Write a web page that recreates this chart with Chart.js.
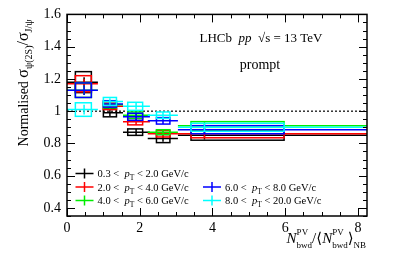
<!DOCTYPE html>
<html>
<head>
<meta charset="utf-8">
<script src="https://cdn.jsdelivr.net/npm/chart.js@4"></script>
<style>
  html, body { margin: 0; padding: 0; background: #fff; }
  #wrap { width: 399px; height: 257px; }
</style>
</head>
<body>
<div id="wrap"><canvas id="chart" width="399" height="257"></canvas></div>
<script>
// bins in N_bwd / <N_bwd>_NB
const xCenter = [0.47, 1.18, 1.9, 2.64, 3.78];
const xLow = [0, 0.99, 1.54, 2.22, 3.05];
const xHigh = [0.85, 1.54, 2.28, 3.05, 8.25];
const boxLow = [0.23, 1.0, 1.67, 2.46, 3.41];
const boxHigh = [0.67, 1.36, 2.08, 2.83, 5.97];

// pT bins (GeV/c)
const ptLow = ["0.3", "2.0", "4.0", "6.0", "8.0"];
const ptHigh = ["2.0", "4.0", "6.0", "8.0", "20.0"];
const colors = ["#000000", "#ff0000", "#00ee00", "#0000ff", "#00ffff"];

// normalised ratio per pT bin
const pt03to20 = [1.18, 0.99, 0.87, 0.83, 0.85];
const pt20to40 = [1.17, 1.03, 0.935, 0.86, 0.86];
const pt40to60 = [1.13, 1.04, 0.975, 0.87, 0.91];
const pt60to80 = [1.13, 1.045, 0.965, 0.94, 0.885];
const pt80to200 = [1.01, 1.06, 1.03, 0.975, 0.9];
const values = [pt03to20, pt20to40, pt40to60, pt60to80, pt80to200];

// stat errors (vertical bars) and syst errors (boxes)
const statErr = [
  [0.03, 0.02, 0.02, 0.02, 0.025],
  [0.03, 0.02, 0.02, 0.02, 0.025],
  [0.03, 0.02, 0.02, 0.02, 0.025],
  [0.03, 0.02, 0.02, 0.02, 0.025],
  [0.03, 0.02, 0.02, 0.02, 0.025]
];
const sysErr = [
  [0.065, 0.025, 0.02, 0.025, 0.03],
  [0.05, 0.02, 0.02, 0.02, 0.025],
  [0.045, 0.02, 0.02, 0.015, 0.025],
  [0.045, 0.02, 0.022, 0.02, 0.025],
  [0.042, 0.025, 0.025, 0.02, 0.025]
];

const yTicks = [0.4, 0.6, 0.8, 1.0, 1.2, 1.4, 1.6];
const xTicks = [0, 2, 4, 6, 8];

const SERIF = "'Liberation Serif', 'DejaVu Serif', serif";

// draw text made of pieces (sub/superscripts); returns width
function richWidth(ctx, parts) {
  let w = 0;
  parts.forEach(p => {
    if (p.stack) {
      ctx.font = p.size + "px " + SERIF;
      w += Math.max(ctx.measureText(p.stack[0]).width, ctx.measureText(p.stack[1]).width);
    } else {
      ctx.font = (p.italic ? "italic " : "") + p.size + "px " + SERIF;
      w += ctx.measureText(p.t).width;
    }
  });
  return w;
}

function drawRich(ctx, parts, x, y, align) {
  const w = richWidth(ctx, parts);
  let cx = align === "right" ? x - w : align === "center" ? x - w / 2 : x;
  ctx.textBaseline = "alphabetic";
  ctx.textAlign = "left";
  parts.forEach(p => {
    if (p.stack) {
      ctx.font = p.size + "px " + SERIF;
      ctx.fillText(p.stack[0], cx, y + p.up);
      ctx.fillText(p.stack[1], cx, y + p.down);
      cx += Math.max(ctx.measureText(p.stack[0]).width, ctx.measureText(p.stack[1]).width);
    } else {
      ctx.font = (p.italic ? "italic " : "") + p.size + "px " + SERIF;
      ctx.fillText(p.t, cx, y + (p.dy || 0));
      cx += ctx.measureText(p.t).width;
    }
  });
}

const errorPlugin = {
  id: "errorBoxes",
  beforeDatasetsDraw(chart) {
    const { ctx, scales: { x, y } } = chart;
    // dotted line at 1
    ctx.save();
    ctx.strokeStyle = "#000";
    ctx.lineWidth = 1.2;
    ctx.setLineDash([2, 2]);
    ctx.beginPath();
    ctx.moveTo(x.getPixelForValue(0), y.getPixelForValue(1));
    ctx.lineTo(x.getPixelForValue(8.25), y.getPixelForValue(1));
    ctx.stroke();
    ctx.restore();
  },
  afterDatasetsDraw(chart) {
    const { ctx, scales: { x, y } } = chart;
    ctx.save();
    ctx.lineWidth = 1.5;
    values.forEach((vals, s) => {
      ctx.strokeStyle = colors[s];
      vals.forEach((v, i) => {
        const yc = y.getPixelForValue(v);
        // syst box
        const bx0 = x.getPixelForValue(boxLow[i]);
        const bx1 = x.getPixelForValue(boxHigh[i]);
        const by0 = y.getPixelForValue(v + sysErr[s][i]);
        const by1 = y.getPixelForValue(v - sysErr[s][i]);
        ctx.strokeRect(bx0, by0, bx1 - bx0, by1 - by0);
        // bin width
        ctx.beginPath();
        ctx.moveTo(x.getPixelForValue(xLow[i]), yc);
        ctx.lineTo(x.getPixelForValue(xHigh[i]), yc);
        // stat error
        const xc = x.getPixelForValue(xCenter[i]);
        ctx.moveTo(xc, y.getPixelForValue(v + statErr[s][i]));
        ctx.lineTo(xc, y.getPixelForValue(v - statErr[s][i]));
        ctx.stroke();
      });
    });
    ctx.restore();
  },
  afterDraw(chart) {
    const { ctx, chartArea: a, scales: { x, y } } = chart;
    ctx.save();
    ctx.strokeStyle = "#000";
    ctx.fillStyle = "#000";
    ctx.lineWidth = 1.5;
    ctx.strokeRect(a.left, a.top, a.right - a.left, a.bottom - a.top);

    // ticks on all four sides, pointing in
    ctx.lineWidth = 1;
    ctx.beginPath();
    for (let v = 0; v <= 8.25; v += 0.5) {
      const px = Math.round(x.getPixelForValue(v)) + 0.5;
      const len = Math.abs(v % 2) < 1e-6 ? 8 : 4;
      ctx.moveTo(px, a.bottom); ctx.lineTo(px, a.bottom - len);
      ctx.moveTo(px, a.top); ctx.lineTo(px, a.top + len);
    }
    for (let k = 7; k <= 32; k++) {
      const v = k * 0.05;
      const py = Math.round(y.getPixelForValue(v)) + 0.5;
      const len = k % 4 === 0 ? 8 : 4;
      ctx.moveTo(a.left, py); ctx.lineTo(a.left + len, py);
      ctx.moveTo(a.right, py); ctx.lineTo(a.right - len, py);
    }
    ctx.stroke();

    // labels
    drawRich(ctx, [
      { t: "LHCb  ", size: 13 },
      { t: "pp", size: 13, italic: true },
      { t: "  √s = 13 TeV", size: 13 }
    ], 261, 42, "center");
    drawRich(ctx, [{ t: "prompt", size: 14 }], 260, 69, "center");

    // legend
    const rows = [
      { s: 0, col: 0, row: 0 }, { s: 1, col: 0, row: 1 }, { s: 2, col: 0, row: 2 },
      { s: 3, col: 1, row: 1 }, { s: 4, col: 1, row: 2 }
    ];
    const colX = [75.5, 203];
    const rowY = [173.5, 187, 200.5];
    rows.forEach(r => {
      const lx = colX[r.col], ly = rowY[r.row];
      ctx.strokeStyle = colors[r.s];
      ctx.lineWidth = 1.5;
      ctx.beginPath();
      ctx.moveTo(lx, ly); ctx.lineTo(lx + 18, ly);
      ctx.moveTo(lx + 9, ly - 5); ctx.lineTo(lx + 9, ly + 5);
      ctx.stroke();
      ctx.fillStyle = "#000";
      drawRich(ctx, [
        { t: ptLow[r.s] + " <  ", size: 10.5 },
        { t: "p", size: 10.5, italic: true },
        { t: "T", size: 7.5, dy: 3 },
        { t: " < " + ptHigh[r.s] + " GeV/c", size: 10.5 }
      ], lx + 22, ly + 3.5, "left");
    });

    // x title
    ctx.fillStyle = "#000";
    drawRich(ctx, [
      { t: "N", size: 15, italic: true },
      { stack: ["PV", "bwd"], size: 9, up: -8, down: 5 },
      { t: "/⟨", size: 15 },
      { t: "N", size: 15, italic: true },
      { stack: ["PV", "bwd"], size: 9, up: -8, down: 5 },
      { t: "⟩", size: 15 },
      { t: "NB", size: 9, dy: 5 }
    ], 366, 243, "right");

    // y title
    ctx.translate(28, 83);
    ctx.rotate(-Math.PI / 2);
    drawRich(ctx, [
      { t: "Normalised ", size: 14 },
      { t: "σ", size: 16 },
      { t: "ψ(2S)", size: 10, dy: 4 },
      { t: "/σ", size: 16 },
      { t: "J/ψ", size: 10, dy: 4 }
    ], 0, 0, "center");
    ctx.restore();
  }
};

const datasets = values.map((vals, s) => ({
  label: ptLow[s] + " < pT < " + ptHigh[s] + " GeV/c",
  data: vals.map((v, i) => ({ x: xCenter[i], y: v })),
  borderColor: colors[s],
  backgroundColor: colors[s],
  pointRadius: 0,
  showLine: false
}));

new Chart(document.getElementById("chart"), {
  type: "scatter",
  data: { datasets },
  options: {
    responsive: false,
    animation: false,
    events: [],
    layout: { padding: { top: 12, right: 32, left: 0, bottom: 0 } },
    plugins: { legend: { display: false }, tooltip: { enabled: false } },
    scales: {
      x: {
        type: "linear",
        min: 0,
        max: 8.25,
        afterFit: s => { s.height = 41; },
        afterBuildTicks: s => { s.ticks = xTicks.map(v => ({ value: v })); },
        grid: { display: false, drawTicks: false },
        border: { display: false },
        ticks: { padding: 4, color: "#000", font: { family: SERIF, size: 14 }, maxRotation: 0 }
      },
      y: {
        min: 0.35,
        max: 1.6,
        afterFit: s => { s.width = 67; },
        afterBuildTicks: s => { s.ticks = yTicks.map(v => ({ value: v })); },
        grid: { display: false, drawTicks: false },
        border: { display: false },
        ticks: {
          padding: 6,
          color: "#000",
          font: { family: SERIF, size: 14 },
          callback: v => (Math.abs(v - 1) < 1e-9 ? "1" : v.toFixed(1))
        }
      }
    }
  },
  plugins: [errorPlugin]
});
</script>
</body>
</html>
